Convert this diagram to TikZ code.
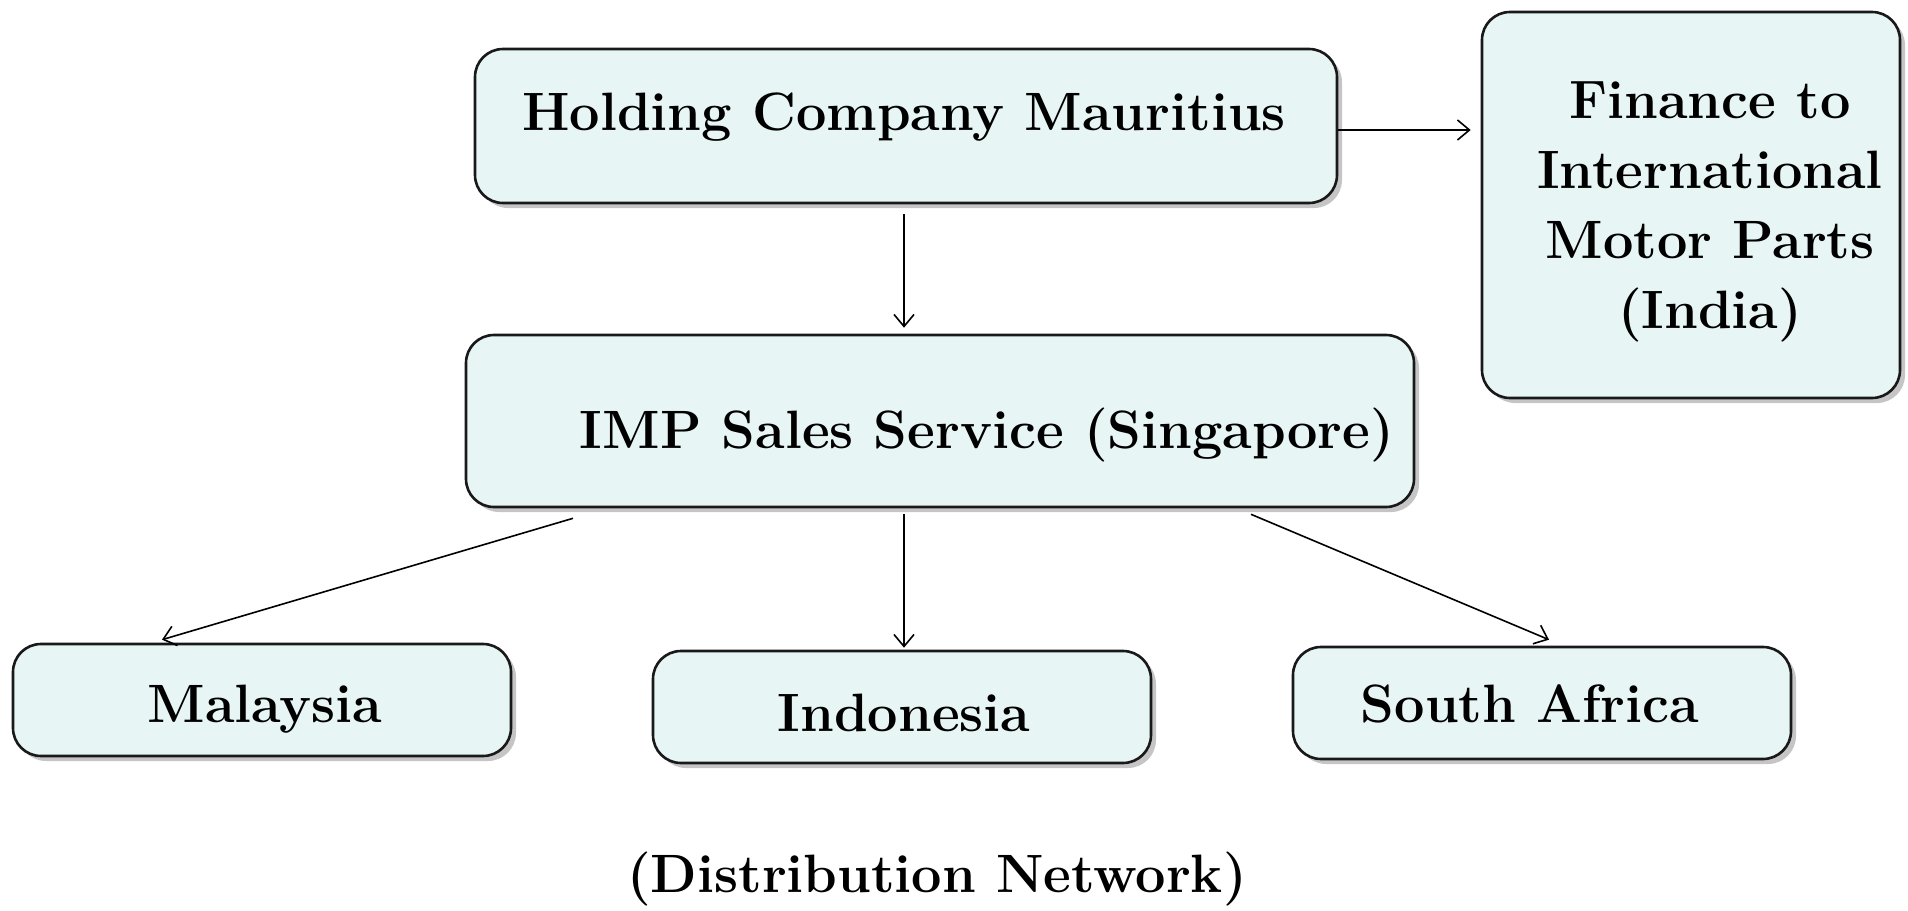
\documentclass[tikz,border=0pt]{standalone}
\usetikzlibrary{arrows.meta,shadows}
\definecolor{boxfill}{RGB}{232,245,245}
\tikzset{
  box/.style={draw=black!90, line width=1.3pt, fill=boxfill, rounded corners=14pt,
    drop shadow={shadow xshift=2.5pt, shadow yshift=-2.5pt, fill=black!45}},
  lbl/.style={font=\fontsize{27}{35}\selectfont\bfseries, anchor=base, inner sep=0pt, align=center},
  arr/.style={line width=0.8pt, -{Straight Barb[length=6pt,width=10pt]}}
}
\begin{document}
\begin{tikzpicture}[x=0.5pt,y=-0.5pt]
\useasboundingbox (0,0) rectangle (1908,911);
% boxes
\node[box, minimum width=431pt, minimum height=77pt] (hold) at (906,126) {};
\node[box, minimum width=209pt, minimum height=193pt] (fin) at (1691,205) {};
\node[box, minimum width=474pt, minimum height=86pt] (imp) at (940,421) {};
\node[box, minimum width=249pt, minimum height=56pt] (mal) at (262,700) {};
\node[box, minimum width=249pt, minimum height=56pt] (ind) at (902,707) {};
\node[box, minimum width=249pt, minimum height=56pt] (saf) at (1542,703) {};
% texts
\node[lbl] (holdt) at (904,130) {Holding Company Mauritius};
\node[lbl, anchor=center] (fint) at (1710,212) {Finance to\\International\\Motor Parts\\(India)};
\node[lbl] (impt) at (987,448) {IMP Sales Service (Singapore)};
\node[lbl] (malt) at (265,722) {Malaysia};
\node[lbl] (indt) at (904,731) {Indonesia};
\node[lbl] (saft) at (1530,722) {South Africa};
\node[lbl] (cap) at (937,892) {(Distribution Network)};
% connectors
\draw[arr] ([yshift=-2pt]hold.east) -- ([xshift=-5pt,yshift=-2pt]fin.west |- hold.east);
\draw[arr] ([xshift=-1pt,yshift=-5pt]hold.south) -- ([xshift=-18pt,yshift=3pt]imp.north);
\draw[arr] ([xshift=-183.5pt,yshift=-5pt]imp.south) -- ([xshift=-50pt,yshift=1.5pt]mal.north);
\draw[arr] ([xshift=-18pt,yshift=-3pt]imp.south) -- ([xshift=1pt,yshift=1pt]ind.north);
\draw[arr] ([xshift=155.5pt,yshift=-3pt]imp.south) -- ([xshift=3.5pt,yshift=3pt]saf.north);
\end{tikzpicture}
\end{document}
